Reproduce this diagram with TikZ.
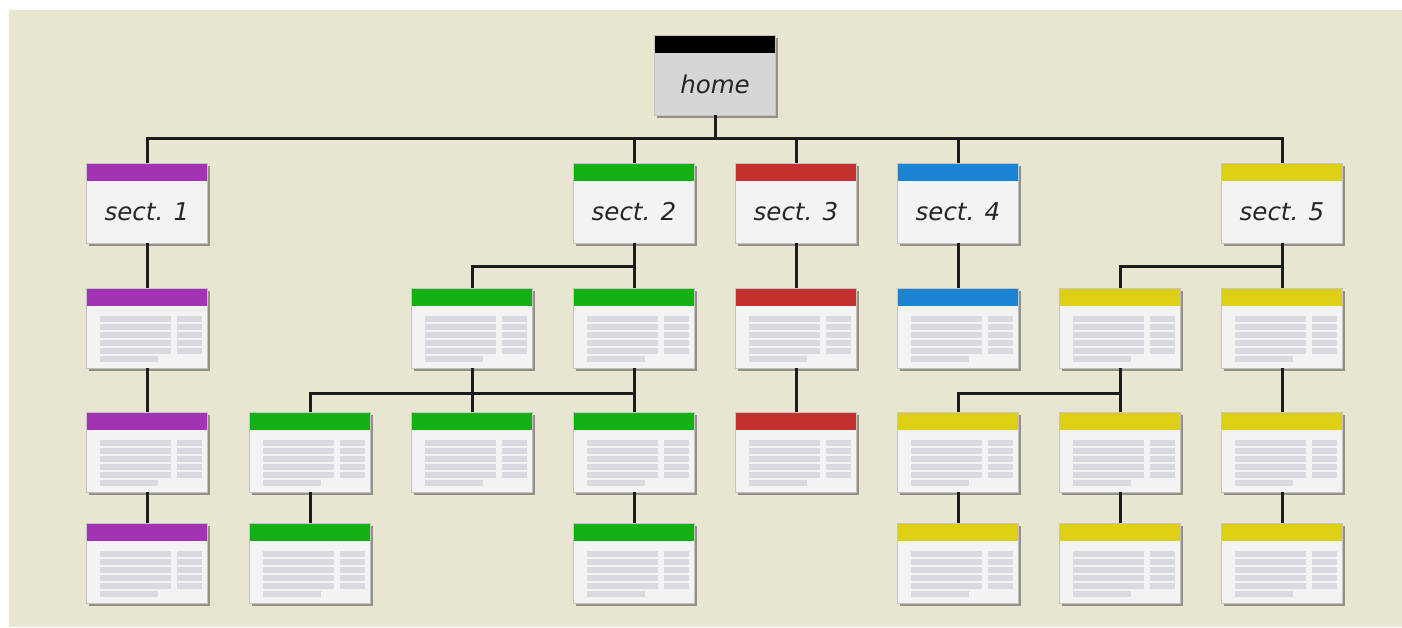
\documentclass[tikz,border=0pt]{standalone}
\usepackage{fontspec}
\newfontfamily\lblfont{DejaVu Sans}
\usetikzlibrary{shadows}
\definecolor{bg}{HTML}{E8E5D0}
\definecolor{boxfill}{HTML}{F3F3F3}
\definecolor{homefill}{HTML}{D6D6D6}
\definecolor{boxline}{HTML}{C4C4C4}
\definecolor{stripe}{HTML}{D9DADF}
\definecolor{conn}{HTML}{1C1C1C}
\definecolor{cpurple}{HTML}{A233B2}
\definecolor{cgreen}{HTML}{12B012}
\definecolor{cred}{HTML}{C3312E}
\definecolor{cblue}{HTML}{1A84D2}
\definecolor{cyellow}{HTML}{DCCF14}
\definecolor{txt}{HTML}{262626}
\tikzset{
  box/.style={draw=boxline, line width=0.8pt, fill=boxfill, minimum width=121pt,
    minimum height=80pt, inner sep=0pt,
    drop shadow={shadow xshift=2.5pt, shadow yshift=-2.5pt, fill=black!65, opacity=0.6}},
  titled/.style={box, path picture={
    \fill[#1] (path picture bounding box.north west) rectangle
      ([yshift=-18pt]path picture bounding box.north east);}},
  page/.style={box, path picture={
    \fill[#1] (path picture bounding box.north west) rectangle
      ([yshift=-18pt]path picture bounding box.north east);
    \foreach \i in {0,...,5}{
      \pgfmathsetmacro{\w}{\i==5 ? 58 : 71}
      \fill[stripe] ([xshift=13pt,yshift={-28pt-\i*8pt}]path picture bounding box.north west)
        rectangle ++(\w pt,-6pt);}
    \foreach \i in {0,...,4}{
      \fill[stripe] ([xshift=90pt,yshift={-28pt-\i*8pt}]path picture bounding box.north west)
        rectangle ++(25pt,-6pt);}
  }},
  lbl/.style={font=\lblfont\itshape\fontsize{24.5}{28}\selectfont, text=txt, inner sep=0pt},
  link/.style={draw=conn, line width=3pt}
}
\begin{document}
\begin{tikzpicture}[x=1pt,y=-1pt]
\useasboundingbox (0,0) rectangle (1402,627);
\fill[white] (0,0) rectangle (1402,627);
\fill[bg] (9,10) rectangle (1402,627);

% boxes
\node[titled=black, fill=homefill] (home) at (715,75) {};
\node[titled=cpurple] (s1) at (147,203) {};
\node[titled=cgreen] (s2) at (634,203) {};
\node[titled=cred] (s3) at (796,203) {};
\node[titled=cblue] (s4) at (958,203) {};
\node[titled=cyellow] (s5) at (1282,203) {};

\node[page=cpurple] (p1a) at (147,328) {};
\node[page=cgreen] (g2a) at (472,328) {};
\node[page=cgreen] (g2b) at (634,328) {};
\node[page=cred] (r2) at (796,328) {};
\node[page=cblue] (b2) at (958,328) {};
\node[page=cyellow] (y2a) at (1120,328) {};
\node[page=cyellow] (y2b) at (1282,328) {};

\node[page=cpurple] (p1b) at (147,452) {};
\node[page=cgreen] (g3a) at (310,452) {};
\node[page=cgreen] (g3b) at (472,452) {};
\node[page=cgreen] (g3c) at (634,452) {};
\node[page=cred] (r3) at (796,452) {};
\node[page=cyellow] (y3a) at (958,452) {};
\node[page=cyellow] (y3b) at (1120,452) {};
\node[page=cyellow] (y3c) at (1282,452) {};

\node[page=cpurple] (p1c) at (147,563) {};
\node[page=cgreen] (g4a) at (310,563) {};
\node[page=cgreen] (g4c) at (634,563) {};
\node[page=cyellow] (y4a) at (958,563) {};
\node[page=cyellow] (y4b) at (1120,563) {};
\node[page=cyellow] (y4c) at (1282,563) {};

% labels
\node[lbl] (thome) at ([yshift=-9pt]home.center) {home};
\node[lbl] (ts1) at ([yshift=-9pt]s1.center) {sect. 1};
\node[lbl] (ts2) at ([yshift=-9pt]s2.center) {sect. 2};
\node[lbl] (ts3) at ([yshift=-9pt]s3.center) {sect. 3};
\node[lbl] (ts4) at ([yshift=-9pt]s4.center) {sect. 4};
\node[lbl] (ts5) at ([yshift=-9pt]s5.center) {sect. 5};

% connectors
\foreach \t in {s1,s2,s3,s4,s5}{
  \path[link] (home.south) -- ++(0,23) -| (\t.north);
}
\path[link] (s1.south) -- (p1a.north);
\path[link] (p1a.south) -- (p1b.north);
\path[link] (p1b.south) -- (p1c.north);
\path[link] (s2.south) -- ++(0,23) -| (g2a.north);
\path[link] (s2.south) -- (g2b.north);
\foreach \t in {g3a,g3b,g3c}{
  \path[link] (g2a.south) -- ++(0,25) -| (\t.north);
}
\path[link] (g2b.south) -- (g3c.north);
\path[link] (g3a.south) -- (g4a.north);
\path[link] (g3c.south) -- (g4c.north);
\path[link] (s3.south) -- (r2.north);
\path[link] (r2.south) -- (r3.north);
\path[link] (s4.south) -- (b2.north);
\path[link] (s5.south) -- ++(0,23) -| (y2a.north);
\path[link] (s5.south) -- (y2b.north);
\path[link] (y2a.south) -- ++(0,25) -| (y3a.north);
\path[link] (y2a.south) -- (y3b.north);
\path[link] (y2b.south) -- (y3c.north);
\path[link] (y3a.south) -- (y4a.north);
\path[link] (y3b.south) -- (y4b.north);
\path[link] (y3c.south) -- (y4c.north);
\end{tikzpicture}
\end{document}
